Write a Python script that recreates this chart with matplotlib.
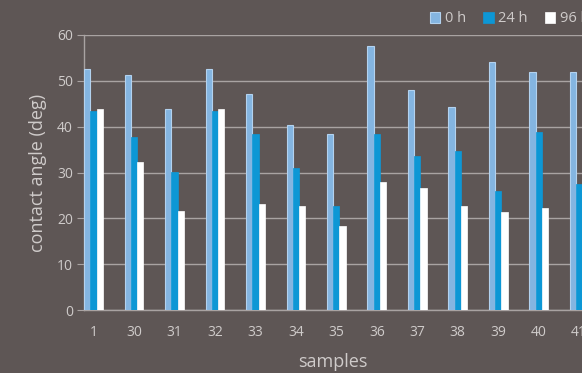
import matplotlib
matplotlib.use("Agg")
import matplotlib.pyplot as plt
import numpy as np

samples = ["1", "30", "31", "32", "33", "34", "35", "36", "37", "38", "39", "40", "41"]
angle_0h = [52.5, 51.3, 43.8, 52.5, 47.1, 40.3, 38.5, 57.6, 48.0, 44.2, 54.1, 52.0, 52.0]
angle_24h = [43.4, 37.7, 30.2, 43.4, 38.5, 30.9, 22.7, 38.4, 33.5, 34.8, 26.0, 38.9, 27.6]
angle_96h = [43.8, 32.3, 21.7, 43.8, 23.1, 22.7, 18.3, 28.0, 26.7, 22.8, 21.3, 22.2, 22.0]
series_labels = ["0 h", "24 h", "96 h"]

BG = "#5e5655"
TEXT = "#cfcbca"
GRID = "#a9a3a2"

plt.rcParams["font.family"] = ["Open Sans", "DejaVu Sans"]

fig = plt.figure(figsize=(5.82, 3.73), dpi=100)
fig.patch.set_facecolor(BG)
ax = fig.add_axes([84 / 582, 63 / 373, 1 - 84 / 582, 275 / 373])
ax.set_facecolor(BG)

x = np.arange(len(samples))
w = 0.154
ax.bar(x - w, angle_0h, w, color="#84b5e1", edgecolor="#b3d2ef", linewidth=0.8,
       label=series_labels[0], zorder=3)
ax.bar(x, angle_24h, w, color="#0d97d5", edgecolor="#0d97d5", linewidth=0.5,
       label=series_labels[1], zorder=3)
ax.bar(x + w, angle_96h, w, color="white", edgecolor="white", linewidth=0.5,
       label=series_labels[2], zorder=3)

ax.set_xlim(-0.236, 12.07)
ax.set_ylim(0, 60)
ax.set_yticks(range(0, 61, 10))
ax.set_xticks(x)
ax.set_xticklabels(samples)
ax.yaxis.grid(True, color=GRID, linewidth=1.0, zorder=0)
ax.set_axisbelow(True)

for side in ["top", "right"]:
    ax.spines[side].set_visible(False)
for side in ["left", "bottom"]:
    ax.spines[side].set_color(GRID)
    ax.spines[side].set_linewidth(1.0)

ax.tick_params(axis="y", colors=GRID, labelcolor=TEXT, labelsize=10, length=5, pad=3)
ax.tick_params(axis="x", colors=GRID, labelcolor=TEXT, labelsize=10, length=0, pad=11)

ax.set_ylabel("contact angle (deg)", color=TEXT, fontsize=13, labelpad=7)
ax.set_xlabel("samples", color=TEXT, fontsize=13, labelpad=9)

leg = fig.legend(loc="center left", bbox_to_anchor=(417 / 582, 1 - 19 / 373), ncol=3,
                 frameon=False, handlelength=0.7, handleheight=0.7, handletextpad=0.3,
                 columnspacing=1.2, fontsize=10.5)
for t in leg.get_texts():
    t.set_color(TEXT)

fig.savefig("out.png", dpi=100, facecolor=fig.get_facecolor())
